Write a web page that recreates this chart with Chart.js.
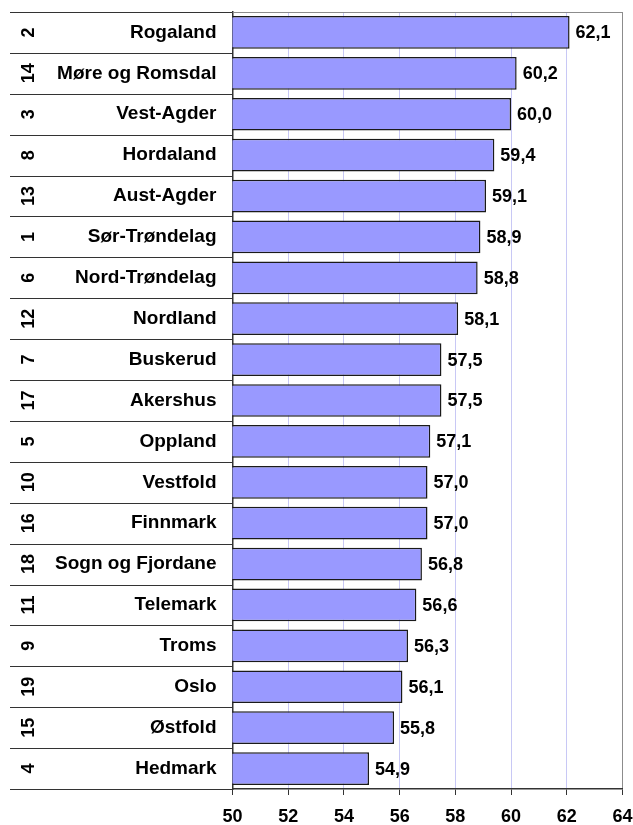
<!DOCTYPE html>
<html>
<head>
<meta charset="utf-8">
<script src="https://cdn.jsdelivr.net/npm/chart.js@4/dist/chart.umd.min.js"></script>
<style>
  html, body { margin: 0; padding: 0; background: #ffffff; }
  canvas { display: block; }
</style>
</head>
<body>
<canvas id="chart" width="633" height="825"></canvas>
<script>
// Counties, ranked from top to bottom
const counties = [
  'Rogaland', 'Møre og Romsdal', 'Vest-Agder', 'Hordaland', 'Aust-Agder',
  'Sør-Trøndelag', 'Nord-Trøndelag', 'Nordland', 'Buskerud', 'Akershus',
  'Oppland', 'Vestfold', 'Finnmark', 'Sogn og Fjordane', 'Telemark',
  'Troms', 'Oslo', 'Østfold', 'Hedmark'
];
// Rank number shown beside each county
const countyNumbers = [
  '2', '14', '3', '8', '13', '1', '6', '12', '7', '17',
  '5', '10', '16', '18', '11', '9', '19', '15', '4'
];
// Values per county
const values = [
  62.1, 60.2, 60.0, 59.4, 59.1, 58.9, 58.8, 58.1, 57.5, 57.5,
  57.1, 57.0, 57.0, 56.8, 56.6, 56.3, 56.1, 55.8, 54.9
];
// Value axis range and step
const axisMin = 50;
const axisMax = 64;
const axisStep = 2;

const FONT = '"Liberation Sans", Arial, Helvetica, sans-serif';
const fmt = v => v.toFixed(1).replace('.', ',');

// Keep axis labels from shrinking the plot area
function noEdgePadding(scale) {
  scale.paddingTop = 0;
  scale.paddingBottom = 0;
  scale.paddingLeft = 0;
  scale.paddingRight = 0;
}

// Row separators in the label column, the frame, and the value labels
const decorations = {
  id: 'decorations',
  afterDraw(chart) {
    const ctx = chart.ctx;
    const area = chart.chartArea;
    const yS = chart.scales.yNames;
    const left = chart.scales.yNum.left;
    const step = yS.getPixelForValue(1) - yS.getPixelForValue(0);
    const first = yS.getPixelForValue(0) - step / 2;
    ctx.save();
    // top frame line across the plot
    ctx.strokeStyle = '#8c8c8c';
    ctx.lineWidth = 1;
    ctx.beginPath();
    ctx.moveTo(area.left, Math.round(area.top) + 0.5);
    ctx.lineTo(area.right, Math.round(area.top) + 0.5);
    ctx.stroke();
    // separators between the category rows
    ctx.strokeStyle = '#333333';
    ctx.lineWidth = 1.2;
    for (let i = 0; i <= counties.length; i++) {
      const y = Math.round(first + i * step) + 0.5;
      ctx.beginPath();
      ctx.moveTo(left, y);
      ctx.lineTo(area.left, y);
      ctx.stroke();
    }
    // value labels at the end of each bar
    ctx.fillStyle = '#000000';
    ctx.font = 'bold 18px ' + FONT;
    ctx.textAlign = 'left';
    ctx.textBaseline = 'middle';
    const meta = chart.getDatasetMeta(0);
    meta.data.forEach((bar, i) => {
      ctx.fillText(fmt(values[i]), bar.x + 6, bar.y + 1);
    });
    ctx.restore();
  }
};

new Chart(document.getElementById('chart'), {
  type: 'bar',
  data: {
    labels: counties,
    datasets: [{
      data: values,
      yAxisID: 'yNames',
      xAxisID: 'x',
      backgroundColor: '#9999ff',
      borderColor: '#1a1a1a',
      borderWidth: 1.5,
      barPercentage: 0.8,
      categoryPercentage: 1.0
    }]
  },
  options: {
    indexAxis: 'y',
    responsive: false,
    animation: false,
    devicePixelRatio: 1,
    layout: { padding: { left: 10, top: 12, right: 10.5, bottom: 0 } },
    plugins: {
      legend: { display: false },
      tooltip: { enabled: false }
    },
    scales: {
      x: {
        type: 'linear',
        position: 'bottom',
        min: axisMin,
        max: axisMax,
        ticks: {
          stepSize: axisStep,
          color: '#000000',
          font: { family: FONT, size: 18, weight: 'bold' },
          padding: 11,
          maxRotation: 0,
          callback: v => String(v)
        },
        grid: {
          color: ctx => (ctx.tick && ctx.tick.value === axisMax) ? '#8c8c8c' : '#c8c8f5',
          lineWidth: 1,
          drawTicks: true,
          tickLength: 6,
          tickColor: '#333333'
        },
        border: { display: true, color: '#333333', width: 1.5 },
        afterFit(scale) { scale.height = 36; noEdgePadding(scale); }
      },
      yNames: {
        type: 'category',
        axis: 'y',
        position: 'left',
        weight: 1,
        offset: true,
        labels: counties,
        ticks: {
          color: '#000000',
          font: { family: FONT, size: 19, weight: 'bold' },
          padding: 16,
          autoSkip: false
        },
        grid: { display: false, drawTicks: false, offset: true },
        border: { display: true, color: '#333333', width: 1.5 },
        afterFit(scale) { scale.width = 187.5; noEdgePadding(scale); }
      },
      yNum: {
        type: 'category',
        axis: 'y',
        position: 'left',
        weight: 2,
        offset: true,
        labels: countyNumbers,
        ticks: {
          color: '#000000',
          font: { family: FONT, size: 18, weight: 'bold' },
          minRotation: 90,
          maxRotation: 90,
          crossAlign: 'center',
          padding: 6,
          autoSkip: false
        },
        grid: { display: false, drawTicks: false },
        border: { display: false },
        afterFit(scale) { scale.width = 35; noEdgePadding(scale); }
      }
    }
  },
  plugins: [decorations]
});
</script>
</body>
</html>
